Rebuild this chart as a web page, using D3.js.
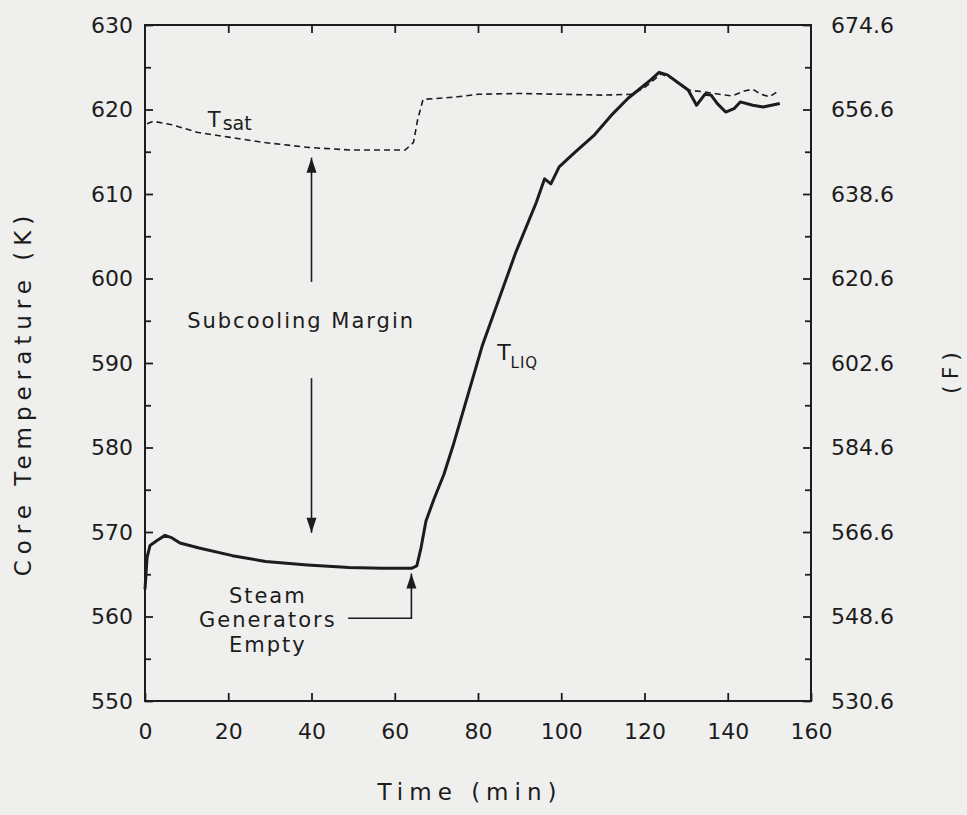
<!DOCTYPE html>
<html>
<head>
<meta charset="utf-8">
<script src="https://cdn.jsdelivr.net/npm/d3@7"></script>
<style>
  body { margin: 0; background: #efefed; }
  svg { display: block; }
  text { font-family: "DejaVu Sans", sans-serif; fill: #1c1c1c; }
</style>
</head>
<body>
<svg id="chart"></svg>
<script>
// time (min) and core liquid temperature T_LIQ (K)
const liqTime = [0, 0.5, 1.2, 2.9, 4.8, 6.5, 8.4, 13, 21, 29, 39, 49, 57, 64, 65.3, 66.3, 67.5, 69.5, 71.8, 74, 81, 89, 94, 96, 97.5, 99.5, 103, 108, 112, 116, 120, 121.5, 123.5, 125.5, 128, 130.5, 132.5, 134.5, 136, 137.5, 139.5, 141.5, 143, 146, 148.5, 150.5, 152.5];
const liqTemp = [563.2, 567, 568.4, 569.0, 569.6, 569.3, 568.7, 568.1, 567.2, 566.5, 566.1, 565.8, 565.7, 565.7, 566.0, 568.1, 571.3, 574, 576.8, 580.2, 592, 603, 609, 611.8, 611.2, 613.2, 614.8, 617, 619.3, 621.3, 622.9, 623.5, 624.4, 624.1, 623.2, 622.3, 620.5, 621.8, 621.7, 620.7, 619.7, 620.1, 620.9, 620.5, 620.3, 620.5, 620.7];

// saturation temperature T_sat (K)
const satTime = [0.5, 2, 6.5, 12.5, 20.5, 28.5, 39.5, 49.5, 62.5, 64.5, 65.5, 66.8, 70, 75, 80, 90, 100, 110, 117, 120, 122.5, 124, 127, 130.5, 134, 138, 141, 144, 146, 148, 150, 152.5];
const satTemp = [618.3, 618.6, 618.2, 617.3, 616.7, 616.1, 615.5, 615.2, 615.2, 616.1, 618.8, 621.2, 621.3, 621.5, 621.8, 621.9, 621.8, 621.7, 621.8, 622.6, 623.6, 624.2, 623.6, 622.3, 622.1, 621.8, 621.6, 622.2, 622.4, 621.8, 621.5, 622.3];

const xTicks = [0, 20, 40, 60, 80, 100, 120, 140, 160];
const kTicks = [550, 560, 570, 580, 590, 600, 610, 620, 630];
const kMinor = [555, 565, 575, 585, 595, 605, 615, 625];
const fTicks = [530.6, 548.6, 566.6, 584.6, 602.6, 620.6, 638.6, 656.6, 674.6];

const W = 967, H = 815;
const pLeft = 145, pRight = 811, pTop = 25, pBottom = 701;
const ink = "#1c1c1c";

const svg = d3.select("#chart").attr("width", W).attr("height", H);

const x = d3.scaleLinear().domain([0, 160]).range([pLeft, pRight]);
const y = d3.scaleLinear().domain([550, 630]).range([pBottom, pTop]);
// right axis: same span in degrees F
const yF = d3.scaleLinear().domain([530.6, 674.6]).range([pBottom, pTop]);

// frame
svg.append("rect")
  .attr("x", pLeft).attr("y", pTop)
  .attr("width", pRight - pLeft).attr("height", pBottom - pTop)
  .attr("fill", "none").attr("stroke", ink).attr("stroke-width", 2);

function styleAxis(g) {
  g.select(".domain").remove();
  g.selectAll(".tick line").attr("stroke", ink).attr("stroke-width", 1.8);
  g.selectAll(".tick text").attr("font-size", 22).attr("fill", ink);
}

// bottom axis
svg.append("g")
  .attr("transform", `translate(0,${pBottom})`)
  .call(d3.axisBottom(x).tickValues(xTicks).tickSize(-8).tickPadding(22).tickFormat(d3.format("d")))
  .call(styleAxis);

// top ticks
svg.append("g")
  .attr("transform", `translate(0,${pTop})`)
  .call(d3.axisTop(x).tickValues(xTicks.slice(1, -1)).tickSize(-8).tickFormat(""))
  .call(styleAxis);

// left axis
svg.append("g")
  .attr("transform", `translate(${pLeft},0)`)
  .call(d3.axisLeft(y).tickValues(kTicks).tickSize(-8).tickPadding(12).tickFormat(d3.format("d")))
  .call(styleAxis);
svg.append("g")
  .attr("transform", `translate(${pLeft},0)`)
  .call(d3.axisLeft(y).tickValues(kMinor).tickSize(-6).tickFormat(""))
  .call(styleAxis);

// right axis (F)
svg.append("g")
  .attr("transform", `translate(${pRight},0)`)
  .call(d3.axisRight(yF).tickValues(fTicks).tickSize(-8).tickPadding(20).tickFormat(d3.format(".1f")))
  .call(styleAxis);
svg.append("g")
  .attr("transform", `translate(${pRight},0)`)
  .call(d3.axisRight(y).tickValues(kMinor).tickSize(-6).tickFormat(""))
  .call(styleAxis);

// axis titles
svg.append("text")
  .attr("transform", `translate(31,${(pTop + pBottom) / 2 + 30}) rotate(-90)`)
  .attr("text-anchor", "middle")
  .attr("font-size", 23).attr("letter-spacing", 6)
  .text("Core Temperature (K)");

svg.append("text")
  .attr("transform", `translate(958,370) rotate(-90)`)
  .attr("text-anchor", "middle")
  .attr("font-size", 22).attr("letter-spacing", 6)
  .text("(F)");

svg.append("text")
  .attr("x", 470).attr("y", 800)
  .attr("text-anchor", "middle")
  .attr("font-size", 23).attr("letter-spacing", 6)
  .text("Time (min)");

// curves
const liq = liqTime.map((t, i) => [t, liqTemp[i]]);
const sat = satTime.map((t, i) => [t, satTemp[i]]);
const line = d3.line().x(d => x(d[0])).y(d => y(d[1]));

svg.append("path")
  .attr("d", line(sat))
  .attr("fill", "none").attr("stroke", ink)
  .attr("stroke-width", 1.6).attr("stroke-dasharray", "6,4");

svg.append("path")
  .attr("d", line(liq))
  .attr("fill", "none").attr("stroke", ink)
  .attr("stroke-width", 3).attr("stroke-linejoin", "round");

// arrowhead helper: tip at (px,py), pointing up (dir=-1) or down (dir=1)
function arrowHead(px, py, dir) {
  const len = 15, half = 5;
  svg.append("path")
    .attr("d", `M${px},${py} L${px - half},${py - dir * len} L${px + half},${py - dir * len} Z`)
    .attr("fill", ink);
}

// subcooling margin arrow
const ax = x(40);
svg.append("line").attr("x1", ax).attr("x2", ax).attr("y1", y(614.3)).attr("y2", y(599.6))
  .attr("stroke", ink).attr("stroke-width", 1.6);
svg.append("line").attr("x1", ax).attr("x2", ax).attr("y1", y(588.2)).attr("y2", y(569.9))
  .attr("stroke", ink).attr("stroke-width", 1.6);
arrowHead(ax, y(614.3), -1);
arrowHead(ax, y(569.9), 1);

svg.append("text")
  .attr("x", x(37.5)).attr("y", y(594.1))
  .attr("text-anchor", "middle")
  .attr("font-size", 21).attr("letter-spacing", 2)
  .text("Subcooling Margin");

// steam generators empty
const sx = x(64);
svg.append("path")
  .attr("d", `M${x(48.8)},${y(559.8)} H${sx} V${y(565.1)}`)
  .attr("fill", "none").attr("stroke", ink).attr("stroke-width", 1.6);
arrowHead(sx, y(565.1), -1);

const sg = svg.append("text")
  .attr("text-anchor", "middle")
  .attr("font-size", 21).attr("letter-spacing", 2);
[["Steam", 561.6], ["Generators", 558.8], ["Empty", 555.8]].forEach(([s, v]) => {
  sg.append("tspan").attr("x", x(29.5)).attr("y", y(v)).text(s);
});

// curve labels
const tl = svg.append("text").attr("x", x(84.6)).attr("y", y(590.4)).attr("font-size", 22);
tl.append("tspan").text("T");
tl.append("tspan").attr("font-size", 15).attr("dy", 8).attr("letter-spacing", 1).text("LIQ");

const ts = svg.append("text").attr("x", x(15.1)).attr("y", y(617.9)).attr("font-size", 21);
ts.append("tspan").text("T");
ts.append("tspan").attr("font-size", 19).attr("dy", 3).attr("dx", 2).text("sat");
</script>
</body>
</html>
